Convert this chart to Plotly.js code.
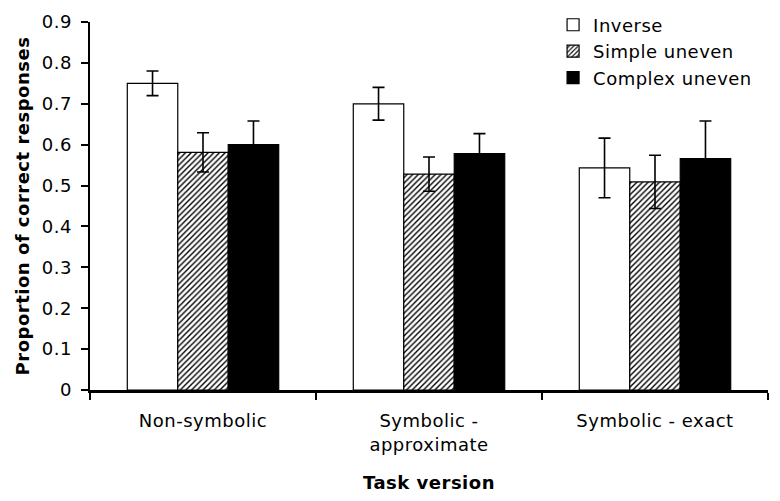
<!DOCTYPE html>
<html>
<head>
<meta charset="utf-8">
<script src="https://cdn.plot.ly/plotly-3.0.1.min.js"></script>
<style>
html,body{margin:0;padding:0;background:#fff;}
#chart{width:780px;height:501px;}
svg text{letter-spacing:0.5px;}
</style>
</head>
<body>
<div id="chart"></div>
<script>
const categories = ["Non-symbolic", "Symbolic -<br>approximate", "Symbolic - exact"];
const seriesNames = ["Inverse", "Simple uneven", "Complex uneven"];
const inverse = [0.75, 0.70, 0.543];
const inverseErr = [0.030, 0.040, 0.073];
const simpleUneven = [0.581, 0.528, 0.509];
const simpleUnevenErr = [0.048, 0.042, 0.065];
const complexUneven = [0.600, 0.578, 0.566];
const complexUnevenErr = [0.058, 0.049, 0.092];
const yTicks = [0, 0.1, 0.2, 0.3, 0.4, 0.5, 0.6, 0.7, 0.8, 0.9];
const yTickLabels = ["0", "0.1", "0.2", "0.3", "0.4", "0.5", "0.6", "0.7", "0.8", "0.9"];

const FONT = "DejaVu Sans, Verdana, sans-serif";
const err = (arr) => ({type: "data", array: arr, visible: true, color: "#000", thickness: 1.6, width: 6});

const traces = [
  {type: "bar", name: seriesNames[0], x: categories, y: inverse, error_y: err(inverseErr),
   legendgroup: "a",
   marker: {color: "#fff", line: {color: "#000", width: 1.2}}},
  {type: "bar", name: seriesNames[1], x: categories, y: simpleUneven, error_y: err(simpleUnevenErr),
   legendgroup: "b",
   marker: {color: "#fff", line: {color: "#000", width: 1.2},
            pattern: {shape: "/", fgcolor: "#000", bgcolor: "#fff", size: 4, solidity: 0.35}}},
  {type: "bar", name: seriesNames[2], x: categories, y: complexUneven, error_y: err(complexUnevenErr),
   legendgroup: "c",
   marker: {color: "#000", line: {color: "#000", width: 1.2}}}
];

const layout = {
  width: 780, height: 501,
  margin: {l: 90, r: 12, t: 22, b: 111, autoexpand: false},
  paper_bgcolor: "#fff", plot_bgcolor: "#fff",
  font: {family: FONT, size: 18, color: "#000"},
  barmode: "group",
  bargap: 0.33, bargroupgap: 0,
  showlegend: true,
  legend: {x: 0.683, y: 1.042, xanchor: "left", yanchor: "top",
           bgcolor: "rgba(0,0,0,0)", font: {family: FONT, size: 18, color: "#000"},
           traceorder: "grouped", tracegroupgap: 0},
  xaxis: {
    type: "category",
    showline: true, linecolor: "#000", linewidth: 2.5,
    ticks: "outside", tickson: "boundaries", ticklen: 7, tickwidth: 2, tickcolor: "#000",
    showgrid: false, zeroline: false,
    tickfont: {family: FONT, size: 18, color: "#000"},
    ticklabelstandoff: 13,
    title: {text: "<b>Task version</b>", font: {family: FONT, size: 18, color: "#000"}, standoff: 23},
    automargin: false
  },
  yaxis: {
    range: [0, 0.9],
    tickvals: yTicks, ticktext: yTickLabels,
    showline: true, linecolor: "#000", linewidth: 2.5,
    ticks: "outside", ticklen: 7, tickwidth: 2, tickcolor: "#000",
    showgrid: false, zeroline: false,
    tickfont: {family: FONT, size: 18, color: "#000"},
    ticklabelstandoff: 5,
    title: {text: "<b>Proportion of correct responses</b>", font: {family: FONT, size: 18, color: "#000"}, standoff: 8},
    automargin: false
  }
};

Plotly.newPlot("chart", traces, layout, {displayModeBar: false, staticPlot: true});
</script>
</body>
</html>
